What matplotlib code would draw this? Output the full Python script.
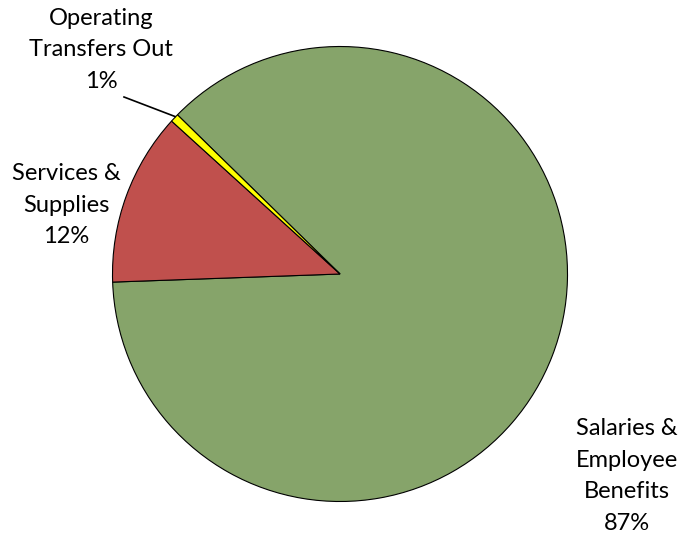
import matplotlib
matplotlib.use("Agg")
import matplotlib.pyplot as plt

categories = ["Salaries &\nEmployee\nBenefits", "Services &\nSupplies", "Operating\nTransfers Out"]
shares = [87.1, 12.3, 0.6]
pct_labels = ["87%", "12%", "1%"]
colors = ["#86A46A", "#C0504D", "#FFFF00"]

W, H = 684, 542
fig = plt.figure(figsize=(W / 100, H / 100), dpi=100)
ax = fig.add_axes([0, 0, 1, 1])

cx, cy, r = 340, H - 274, 227.5
ax.pie(shares, colors=colors, startangle=135.6, counterclock=False,
       center=(cx, cy), radius=r, frame=True,
       wedgeprops=dict(edgecolor="black", linewidth=0.8))
ax.set_xlim(0, W)
ax.set_ylim(0, H)
ax.set_aspect("equal")
ax.axis("off")

font = dict(family=["Lato", "DejaVu Sans"], fontsize=17, color="black",
            ha="center", va="center", linespacing=1.62)

label_pos = [(627, 476), (66, 205), (101, 50)]
for name, pct, (x, y) in zip(categories, pct_labels, label_pos):
    ax.text(x, H - y, f"{name}\n{pct}", **font)

# leader line for the thin slice
ax.plot([124, 175], [H - 97, H - 116.5], color="black", lw=1.2)

fig.savefig("out.png", dpi=100)
